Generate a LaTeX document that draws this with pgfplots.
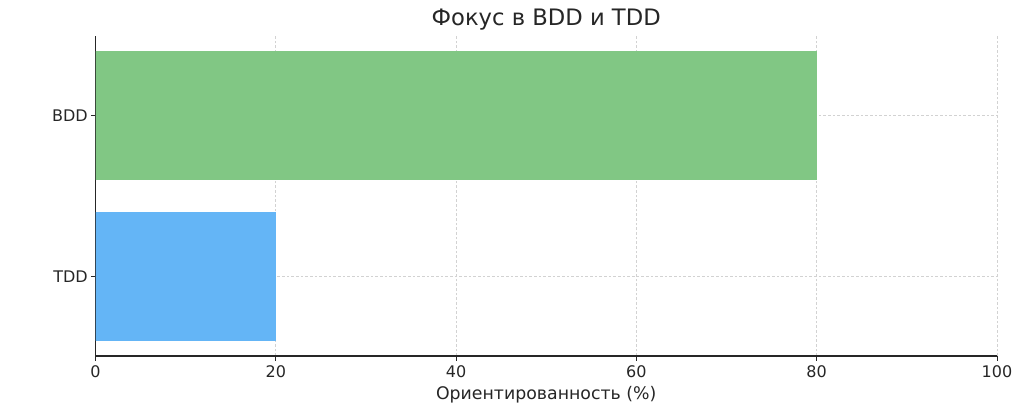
\documentclass[border=0pt]{standalone}
\usepackage{pgfplots}
\pgfplotsset{compat=1.18}
\usepackage{fontspec}
\setmainfont{DejaVu Sans}
\definecolor{bargreen}{HTML}{81C784}
\definecolor{barblue}{HTML}{64B5F6}
\definecolor{txt}{HTML}{262626}
\begin{document}
\begin{tikzpicture}
\path[use as bounding box] (0,0) rectangle (768pt,306.75pt);
\begin{axis}[
  at={(71.6pt,39.75pt)}, anchor=south west,
  scale only axis, width=676.1pt, height=240pt,
  xbar, bar width=0.8, bar shift=0pt,
  xmin=0, xmax=100, ymin=-0.494, ymax=1.494,
  xtick={0,20,40,60,80,100},
  ytick={0,1}, yticklabels={TDD,BDD},
  axis x line*=bottom, axis y line*=left,
  axis line style={txt, line width=0.9pt},
  x axis line style={-}, y axis line style={-},
  tick style={txt, line width=0.6pt},
  tick align=outside, major tick length=3.5pt,
  xmajorgrids, ymajorgrids,
  grid style={dash pattern=on 2pt off 1.5pt, gray!35, line width=0.45pt},
  /pgf/number format/assume math mode=true,
  tick label style={font=\fontsize{12}{14}\selectfont, text=txt},
  yticklabel style={xshift=1.2pt},
  xlabel={Ориентированность (\%)},
  xlabel style={font=\fontsize{13}{15}\selectfont, text=txt, yshift=0pt},
  title={Фокус в BDD и TDD},
  title style={font=\fontsize{17}{20}\selectfont, text=txt, yshift=-5pt},
]
\addplot[draw=none, fill=barblue] coordinates {(20,0)};
\addplot[draw=none, fill=bargreen] coordinates {(80,1)};
\draw[txt, line width=0.9pt] (rel axis cs:0,0) -- (rel axis cs:0,1);
\end{axis}
\end{tikzpicture}
\end{document}
